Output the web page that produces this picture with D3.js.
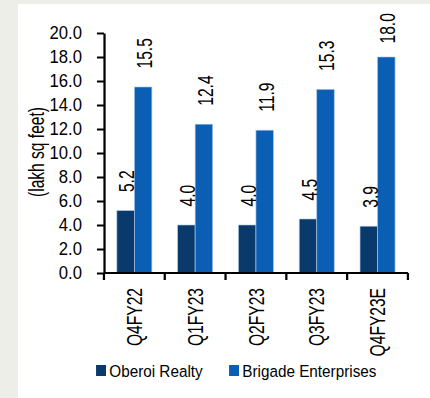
<!DOCTYPE html>
<html>
<head>
<meta charset="utf-8">
<script src="https://cdn.jsdelivr.net/npm/d3@7"></script>
<style>
  html, body { margin: 0; padding: 0; background: #eeeee8; }
  svg { display: block; }
</style>
</head>
<body>
<svg id="chart" width="430" height="398"></svg>
<script>
const categories = ["Q4FY22", "Q1FY23", "Q2FY23", "Q3FY23", "Q4FY23E"]
const seriesNames = ["Oberoi Realty", "Brigade Enterprises"]
const oberoiValues = [5.2, 4.0, 4.0, 4.5, 3.9]
const brigadeValues = [15.5, 12.4, 11.9, 15.3, 18.0]
const yTicks = [0, 2, 4, 6, 8, 10, 12, 14, 16, 18, 20]
const yTitle = "(lakh sq feet)"

const COLORS = ["#0a3a6c", "#0a5eb4"]
const FONT = "'Liberation Sans', Arial, sans-serif"
// the original picture is a little wider than tall, so draw in a narrow frame and stretch it
const SX = 1.13
// no narrow font installed: squeeze Liberation Sans along the text direction
const NARROW = 0.82
const margins = { top: 33, left: 92, right: 361 }
const LABEL_GAP = 18.5, LABEL_MIN_Y = 43.5

const svg = d3.select("#chart")

svg.append("rect")
    .attr("x", 18).attr("y", 4)
    .attr("width", 412).attr("height", 394)
    .attr("fill", "#ffffff")

const g = svg.append("g").attr("transform", "scale(" + SX + ",1)")

const yRange = d3.scaleLinear().domain([0, 20]).range([273, margins.top])
const xRange = d3.scaleBand()
    .domain(categories)
    .range([margins.left, margins.right])
    .paddingInner(0.424)
    .paddingOuter(0.212)
const xInner = d3.scaleBand().domain(seriesNames).range([0, xRange.bandwidth()])

// y axis
const yAxis = g.append("g")
    .attr("transform", "translate(" + margins.left + ",0)")
    .call(d3.axisLeft(yRange)
        .tickValues(yTicks)
        .tickFormat(d3.format(".1f"))
        .tickSize(6.2)
        .tickSizeOuter(0)
        .tickPadding(13.3))
yAxis.select(".domain").attr("stroke", "#000").attr("stroke-width", 2)
yAxis.selectAll(".tick line").attr("stroke", "#000").attr("stroke-width", 2)
yAxis.selectAll(".tick text")
    .attr("x", -(6.2 + 13.3) / NARROW)
    .attr("transform", "scale(" + NARROW + ",1)")
    .attr("font-family", FONT)
    .attr("font-size", "18px")
    .attr("fill", "#000")

// bars
const rows = categories.map((c, i) => ({ cat: c, vals: [oberoiValues[i], brigadeValues[i]] }))

const groups = g.selectAll(".grp")
    .data(rows)
    .enter()
    .append("g")
    .attr("class", "grp")
    .attr("transform", d => "translate(" + xRange(d.cat) + ",0)")

groups.selectAll("rect")
    .data(d => d.vals.map((v, j) => ({ name: seriesNames[j], v: v, j: j })))
    .enter()
    .append("rect")
    .attr("x", d => xInner(d.name))
    .attr("y", d => yRange(d.v))
    .attr("width", xInner.bandwidth())
    .attr("height", d => yRange(0) - yRange(d.v))
    .attr("fill", d => COLORS[d.j])
    .attr("stroke", "#a9c4e4")
    .attr("stroke-width", 0.6)

groups.selectAll(".val")
    .data(d => d.vals.map((v, j) => ({ name: seriesNames[j], v: v })))
    .enter()
    .append("text")
    .attr("class", "val")
    .attr("transform", d => {
        const y = Math.max(yRange(d.v) - LABEL_GAP, LABEL_MIN_Y)
        return "translate(" + (xInner(d.name) + xInner.bandwidth() / 2 + 1) + "," + y + ") rotate(-90) scale(" + NARROW + ",1)"
    })
    .attr("dy", "0.36em")
    .attr("font-family", FONT)
    .attr("font-size", "19px")
    .attr("fill", "#000")
    .text(d => d3.format(".1f")(d.v))

// x axis: line and ticks between the groups
g.append("line")
    .attr("x1", margins.left).attr("x2", margins.right)
    .attr("y1", yRange(0)).attr("y2", yRange(0))
    .attr("stroke", "#000").attr("stroke-width", 2)

g.selectAll(".xtick")
    .data(d3.range(categories.length + 1))
    .enter()
    .append("line")
    .attr("class", "xtick")
    .attr("x1", i => margins.left + i * xRange.step())
    .attr("x2", i => margins.left + i * xRange.step())
    .attr("y1", yRange(0))
    .attr("y2", yRange(0) + 7)
    .attr("stroke", "#000").attr("stroke-width", 2)

g.selectAll(".xlab")
    .data(categories)
    .enter()
    .append("text")
    .attr("class", "xlab")
    .attr("transform", d => "translate(" + (xRange(d) + xRange.bandwidth() / 2) + "," + (yRange(0) + 15) + ") rotate(-90) scale(" + NARROW + ",1)")
    .attr("text-anchor", "end")
    .attr("dy", "0.36em")
    .attr("font-family", FONT)
    .attr("font-size", "19px")
    .attr("fill", "#000")
    .text(d => d)

// y title
g.append("text")
    .attr("transform", "translate(31.9,152) rotate(-90) scale(" + NARROW + ",1)")
    .attr("text-anchor", "middle")
    .attr("dy", "0.36em")
    .attr("font-family", FONT)
    .attr("font-size", "19px")
    .attr("fill", "#000")
    .text(yTitle)

// legend
const legendX = [85, 202.7]
seriesNames.forEach((name, j) => {
    g.append("rect")
        .attr("x", legendX[j]).attr("y", 365)
        .attr("width", 8.8).attr("height", 11)
        .attr("fill", COLORS[j])
    g.append("text")
        .attr("transform", "translate(" + (legendX[j] + 11.7) + ",376.5) scale(" + NARROW + ",1)")
        .attr("font-family", FONT)
        .attr("font-size", "16.5px")
        .attr("fill", "#000")
        .text(name)
})
</script>
</body>
</html>
